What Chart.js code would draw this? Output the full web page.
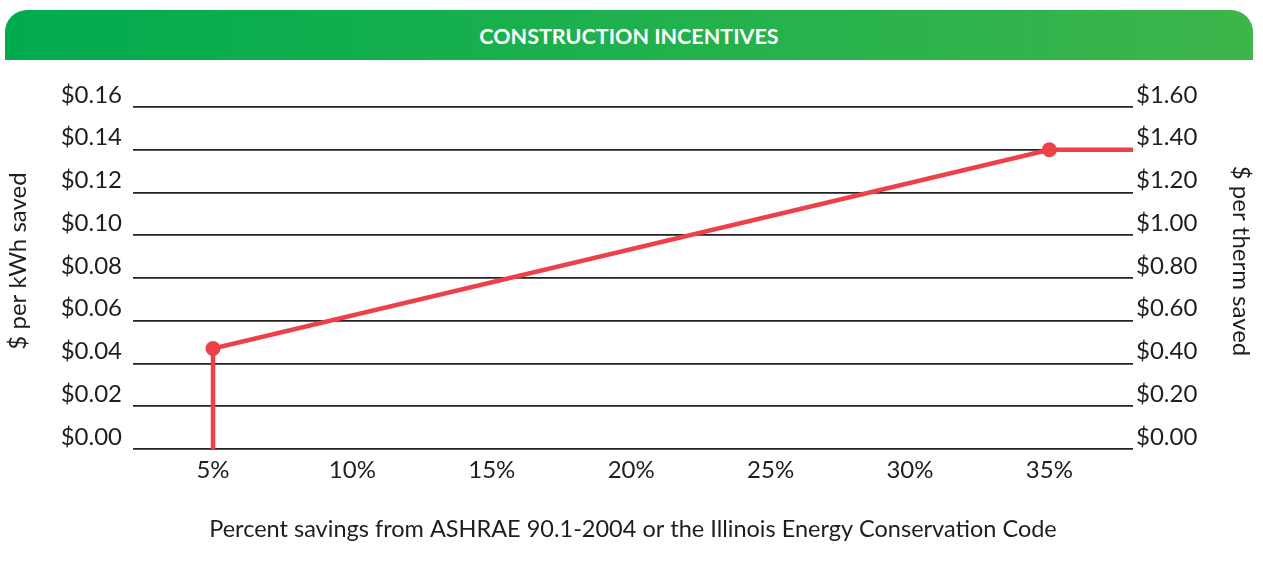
<!DOCTYPE html>
<html lang="en">
<head>
  <meta charset="UTF-8">
  <title>Construction Incentives</title>
  <script src="https://cdn.jsdelivr.net/npm/chart.js"></script>
  <style>
    html, body { margin: 0; padding: 0; background: #fff; }
    body { width: 1263px; height: 565px; position: relative; overflow: hidden; font-family: Lato, sans-serif; }
    .banner {
      position: absolute; left: 5px; top: 10px; width: 1248px; height: 50px;
      border-radius: 22px 22px 0 0;
      background: linear-gradient(90deg, #00ab4e 0%, #1fb14d 50%, #3db54a 100%);
      color: #fff; font-weight: bold; font-size: 21.5px;
      text-align: center; line-height: 52px;
    }
    .wrap { position: absolute; left: 0; top: 60px; width: 1263px; height: 505px; }
  </style>
</head>
<body>
  <div class="banner">CONSTRUCTION INCENTIVES</div>
  <div class="wrap"><canvas id="chart"></canvas></div>
  <script>
    // x positions (% savings) and $ per kWh values of the incentive line
    const savingsPct = [5, 5, 35, 38];
    const kwhIncentive = [0, 0.047, 0.14, 0.14];
    const xTicks = [5, 10, 15, 20, 25, 30, 35];
    const kwhTicks = [0, 0.02, 0.04, 0.06, 0.08, 0.10, 0.12, 0.14, 0.16];
    const thermTicks = [0, 0.2, 0.4, 0.6, 0.8, 1.0, 1.2, 1.4, 1.6];

    const leftTitle = '$ per kWh saved';
    const rightTitle = '$ per therm saved';
    const xTitle = 'Percent savings from ASHRAE 90.1-2004 or the Illinois Energy Conservation Code';

    const textColor = '#1e1e1e';
    const lineRed = '#ee4048';

    const sideTitles = {
      id: 'sideTitles',
      afterDraw(chart) {
        const ctx = chart.ctx;
        const area = chart.chartArea;
        const midY = (area.top + area.bottom) / 2 - 17;
        ctx.save();
        ctx.fillStyle = textColor;
        ctx.font = '24px Lato';
        ctx.textAlign = 'center';
        ctx.textBaseline = 'middle';
        ctx.translate(18, midY);
        ctx.rotate(-Math.PI / 2);
        ctx.fillText(leftTitle, 0, 0);
        ctx.restore();
        ctx.save();
        ctx.fillStyle = textColor;
        ctx.font = '24px Lato';
        ctx.textAlign = 'center';
        ctx.textBaseline = 'middle';
        ctx.translate(1241, midY);
        ctx.rotate(Math.PI / 2);
        ctx.fillText(rightTitle, 0, 0);
        ctx.restore();
      }
    };

    new Chart(document.getElementById('chart'), {
      type: 'line',
      data: {
        datasets: [{
          data: savingsPct.map((x, i) => ({ x: x, y: kwhIncentive[i] })),
          borderColor: lineRed,
          backgroundColor: lineRed,
          borderWidth: 4.5,
          pointRadius: [0, 7.5, 7.5, 0],
          pointHoverRadius: [0, 7.5, 7.5, 0],
          pointBorderWidth: 0,
          tension: 0,
          fill: false,
          clip: false
        }]
      },
      options: {
        responsive: true,
        maintainAspectRatio: false,
        animation: false,
        layout: { padding: { top: 47 } },
        plugins: { legend: { display: false }, tooltip: { enabled: false } },
        scales: {
          x: {
            type: 'linear',
            min: 2.13,
            max: 38,
            afterBuildTicks: s => { s.ticks = xTicks.map(v => ({ value: v })); },
            afterFit: s => { s.height = 116; },
            grid: { display: false, drawTicks: false },
            border: { display: false },
            ticks: {
              padding: 7,
              color: textColor,
              font: { family: 'Lato', size: 24 },
              callback: v => v + '%'
            },
            title: {
              display: true,
              text: xTitle,
              color: textColor,
              font: { family: 'Lato', size: 23.5 },
              padding: { top: 0, bottom: 21 }
            }
          },
          y: {
            position: 'left',
            min: 0,
            max: 0.16,
            afterBuildTicks: s => { s.ticks = kwhTicks.map(v => ({ value: v })); },
            afterFit: s => { s.width = 133; },
            grid: { color: '#222', lineWidth: 1.7, drawTicks: false },
            border: { display: false },
            ticks: {
              padding: 11,
              labelOffset: -12,
              color: textColor,
              font: { family: 'Lato', size: 24 },
              callback: v => '$' + v.toFixed(2)
            }
          },
          y2: {
            position: 'right',
            min: 0,
            max: 1.6,
            afterBuildTicks: s => { s.ticks = thermTicks.map(v => ({ value: v })); },
            afterFit: s => { s.width = 130; },
            grid: { display: false, drawTicks: false },
            border: { display: false },
            ticks: {
              padding: 3,
              labelOffset: -12,
              color: textColor,
              font: { family: 'Lato', size: 24 },
              callback: v => '$' + v.toFixed(2)
            }
          }
        }
      },
      plugins: [sideTitles]
    });
  </script>
</body>
</html>
